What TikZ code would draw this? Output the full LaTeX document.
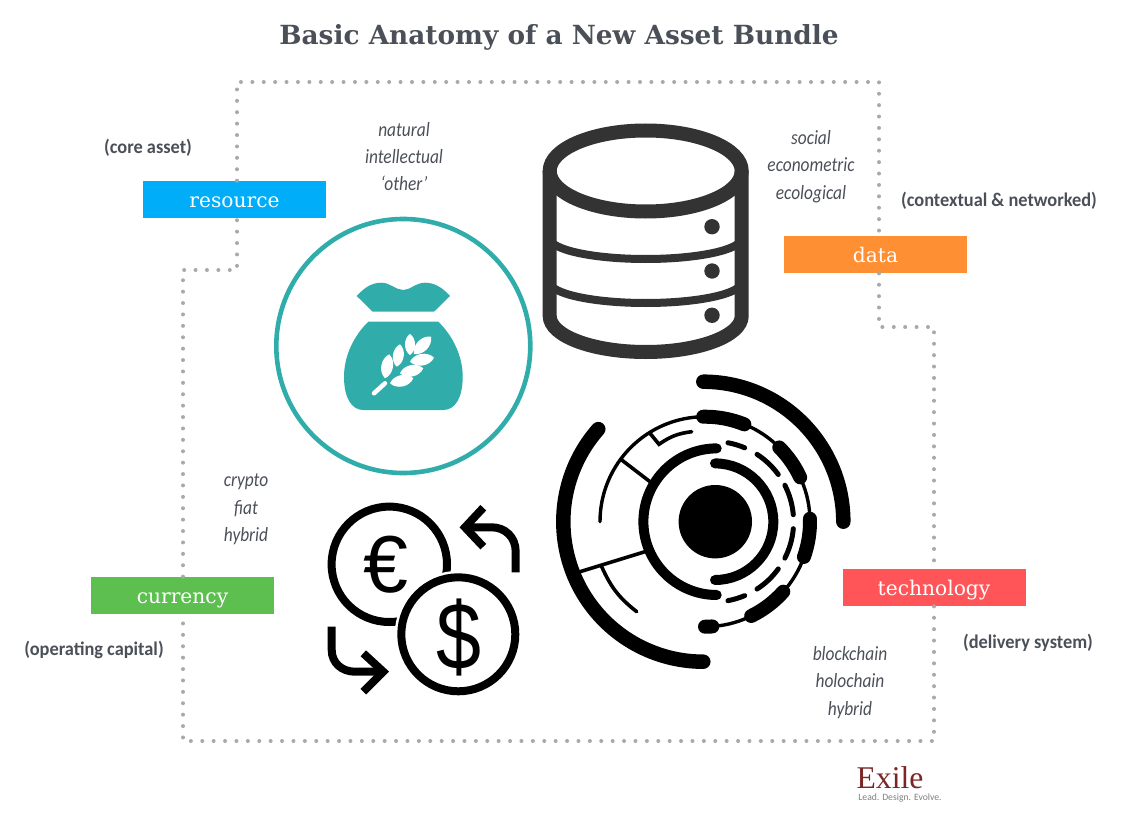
\documentclass[tikz,border=0pt]{standalone}
\usepackage{fontspec}
\setmainfont{Carlito}
\newfontfamily\slabfont{DejaVu Serif}
\newfontfamily\exilefont{Liberation Serif}
\newfontfamily\symfont{Liberation Sans}
\newfontfamily\rolefont[FakeStretch=0.95]{Carlito}
\newfontfamily\kindfont[FakeStretch=0.86]{Carlito}
\usepackage{xcolor}
\usetikzlibrary{positioning}
\definecolor{inkgray}{HTML}{4B5058}
\definecolor{dotgray}{HTML}{A9A9A9}
\definecolor{teal1}{HTML}{30ADAA}
\definecolor{dbgray}{HTML}{333333}
\definecolor{boxblue}{HTML}{00ADF9}
\definecolor{boxorange}{HTML}{FF8F33}
\definecolor{boxred}{HTML}{FF5559}
\definecolor{boxgreen}{HTML}{5CBF4F}
\definecolor{exilered}{HTML}{7A2626}
\newcommand\Px{0.02cm}
\tikzset{
  tag/.style={minimum width=183*\Px, minimum height=37*\Px, inner sep=0pt, text height=9.3pt, text depth=0pt, text=white, font=\slabfont\fontsize{11.5}{14}\selectfont},
  dotline/.style={dotgray, line width=4*\Px, line cap=round, dash pattern=on 0pt off 11.4*\Px},
  role/.style={text=inkgray, inner sep=0pt, font=\rolefont\bfseries\fontsize{11}{13}\selectfont},
  kinds/.style={text=inkgray, inner sep=0pt, align=center, font=\kindfont\itshape\fontsize{11.5}{15.6}\selectfont},
}
\begin{document}
\begin{tikzpicture}[x=\Px, y=\Px]
  \useasboundingbox (0,0) rectangle (1138,-824);
  \node [text=inkgray, inner sep=0pt, font=\slabfont\bfseries\fontsize{15}{18}\selectfont] (title) at (559,-37) {Basic Anatomy of a New Asset Bundle};

  \node [tag, fill=boxblue] (resource) at (234.5,-199.5) {resource};
  \node [tag, fill=boxorange] (data) at (875.5,-254.5) {data};
  \node [tag, fill=boxred] (technology) at (934,-587.5) {technology};
  \node [tag, fill=boxgreen] (currency) at (182.5,-595.5) {currency};

  % corners of the dotted loop
  \coordinate (c1) at (237,-82);
  \coordinate (c2) at (879,-82);
  \coordinate (c3) at (879,-327);
  \coordinate (c4) at (934,-327);
  \coordinate (c5) at (934,-741);
  \coordinate (c6) at (183,-741);
  \coordinate (c7) at (183,-270);
  \coordinate (c8) at (237,-270);
  \draw [dotline] (c1 |- resource.north) -- (c1) -- (c2) -- (c2 |- data.north);
  \draw [dotline] (c3 |- data.south) -- (c3) -- (c4) -- (c4 |- technology.north);
  \draw [dotline] (c5 |- technology.south) -- (c5) -- (c6) -- (c6 |- currency.south);
  \draw [dotline] (c7 |- currency.north) -- (c7) -- (c8) -- (c8 |- resource.south);

  \node [role] (coreasset) at (148,-147.5) {(core asset)};
  \node [role] (contextual) at (999,-200.5) {(contextual \& networked)};
  \node [role] (operating) at (94,-649.5) {(operating capital)};
  \node [role] (delivery) at (1028,-642.5) {(delivery system)};

  \node [kinds] (resourcekinds) at (404,-156.5) {natural\\intellectual\\‘other’};
  \node [kinds] (datakinds) at (811,-166.5) {social\\econometric\\ecological};
  \node [kinds] (currencykinds) at (246,-509.5) {crypto\\fiat\\hybrid};
  \node [kinds] (techkinds) at (850,-682.5) {blockchain\\holochain\\hybrid};

  % grain bag
  \draw [teal1, line width=4.6*\Px] (403.3,-346) circle (127);
  \fill [teal1] (356.7,-296) .. controls (365,-287) and (372,-282.7) .. (381.7,-282.7) .. controls (390,-282.7) and (396,-290) .. (403.3,-290) .. controls (410,-290) and (416,-282.7) .. (425,-282.7) .. controls (434,-282.7) and (442,-287) .. (450,-296) -- (434,-311.7) -- (372.7,-311.7) -- cycle;
  \fill [teal1] (368.3,-321.7) -- (438.3,-321.7) .. controls (452,-335) and (462.7,-355) .. (462.7,-376.7) .. controls (462.7,-398) and (455,-410) .. (443.3,-410) -- (363.3,-410) .. controls (351.6,-410) and (344,-398) .. (344,-376.7) .. controls (344,-355) and (354.6,-335) .. (368.3,-321.7) -- cycle;
  \draw [white, line width=4.5*\Px, line cap=round] (374,-393.3) -- (385,-383.3);
  \foreach \xa/\ya/\xb/\yb in {385/378.3/389.3/354.3, 396.7/366.7/400/344.3, 410/355/410/334, 414/354/431/336.7, 410/361.7/434/357.7, 400/373.3/423.3/368.3, 390/383.3/413.3/378.3}{
    \fill [white] (\xa,-\ya) to[bend left=55] (\xb,-\yb) to[bend left=55] (\xa,-\ya);
  }

  % database
  \draw [dbgray, line width=14*\Px] (645.7,-171) ellipse (96 and 40.5);
  \draw [dbgray, line width=14*\Px] (549.7,-171) -- (549.7,-316) arc[start angle=180, end angle=360, x radius=96, y radius=36] -- (741.7,-171);
  \foreach \yy in {238,282}{
    \draw [dbgray, line width=8*\Px] (549.7,-\yy) arc[start angle=180, end angle=360, x radius=96, y radius=21];
  }
  \foreach \yy in {226.7,271,315.3}{
    \fill [dbgray] (712,-\yy) circle (7.7);
  }

  % currency exchange
  \draw [black, line width=8*\Px] (389.3,-564.3) circle (57.7);
  \draw [white, fill=white, line width=13*\Px] (458.3,-634.3) circle (57);
  \draw [black, line width=8*\Px] (458.3,-634.3) circle (57);
  \node [inner sep=0pt, font=\symfont\fontsize{46}{46}\selectfont] (euro) at (386,-565) {€};
  \node [inner sep=0pt, font=\symfont\fontsize{46}{46}\selectfont] (dollar) at (459,-637) {\scalebox{1}[1.18]{\$}};
  \draw [black, line width=8*\Px] (515.7,-572.3) -- (515.7,-551.7) .. controls (515.7,-537) and (505,-527.3) .. (491.7,-527.3) -- (467,-527.3);
  \draw [black, line width=8*\Px] (483.3,-507.7) -- (465,-527.3) -- (483.3,-546.7);
  \draw [black, line width=8*\Px] (331.7,-626.7) -- (331.7,-650) .. controls (331.7,-663) and (342,-671.7) .. (355,-671.7) -- (381,-671.7);
  \draw [black, line width=8*\Px] (363.3,-653.3) -- (383.3,-671.7) -- (363.3,-691.7);

  % technology rings
  \fill [black] (715.3,-521.7) circle (36.7);
  \coordinate (bigc) at (703.3,-521.7);
  \coordinate (ringl) at (716.7,-521.7);
  \coordinate (ringr) at (715,-521.7);
  \coordinate (dashc) at (713.3,-521.7);
  \coordinate (thinc) at (705,-521.7);
  \begin{scope}[black, line cap=round]
    \draw [line width=14.5*\Px] (bigc) ++(90:140) arc[start angle=90, end angle=0, radius=140];
    \draw [line width=14.5*\Px] (bigc) ++(138.6:140) arc[start angle=138.6, end angle=270, radius=140];
    \draw [line width=10*\Px] (ringl) ++(90:73.3) arc[start angle=90, end angle=270, radius=73.3];
    \draw [line width=10*\Px] (ringr) ++(90:58.3) arc[start angle=90, end angle=-90, radius=58.3];
    \draw [line width=3.4*\Px] (thinc) ++(180:105) arc[start angle=180, end angle=-88, radius=105];
    \foreach \sa/\ea in {91/68, 45/25, 1.6/-19.6, -41.8/-63.9, -86/-90}{
      \draw [line width=14*\Px] (thinc) ++(\sa:105) arc[start angle=\sa, end angle=\ea, radius=105];
    }
    \foreach \sa/\ea in {79.5/67, 57/36, 27/5, -5/-27, -36/-57, -67/-79.5}{
      \draw [line width=5*\Px] (dashc) ++(\sa:80.3) arc[start angle=\sa, end angle=\ea, radius=80.3];
    }
    \draw [line width=3.6*\Px] (580,-571.7) -- (645,-551.7);
    \draw [line width=3.6*\Px] (621.7,-460) -- (650,-481.7);
    \draw [line width=3.6*\Px] (650,-433.3) -- (659,-444.3) to[bend left=14] (691.7,-431.7);
    \draw [line width=3.6*\Px] (601.7,-566.7) to[bend right=14] (636.7,-611.7);
  \end{scope}

  % logo
  \node [text=exilered, inner sep=0pt, font=\exilefont\fontsize{18}{20}\selectfont] (exile) at (890,-778) {Exile};
  \node [text=gray, inner sep=0pt, font=\fontsize{5.5}{7}\selectfont] (motto) at (900,-798) {Lead. Design. Evolve.};
\end{tikzpicture}
\end{document}
